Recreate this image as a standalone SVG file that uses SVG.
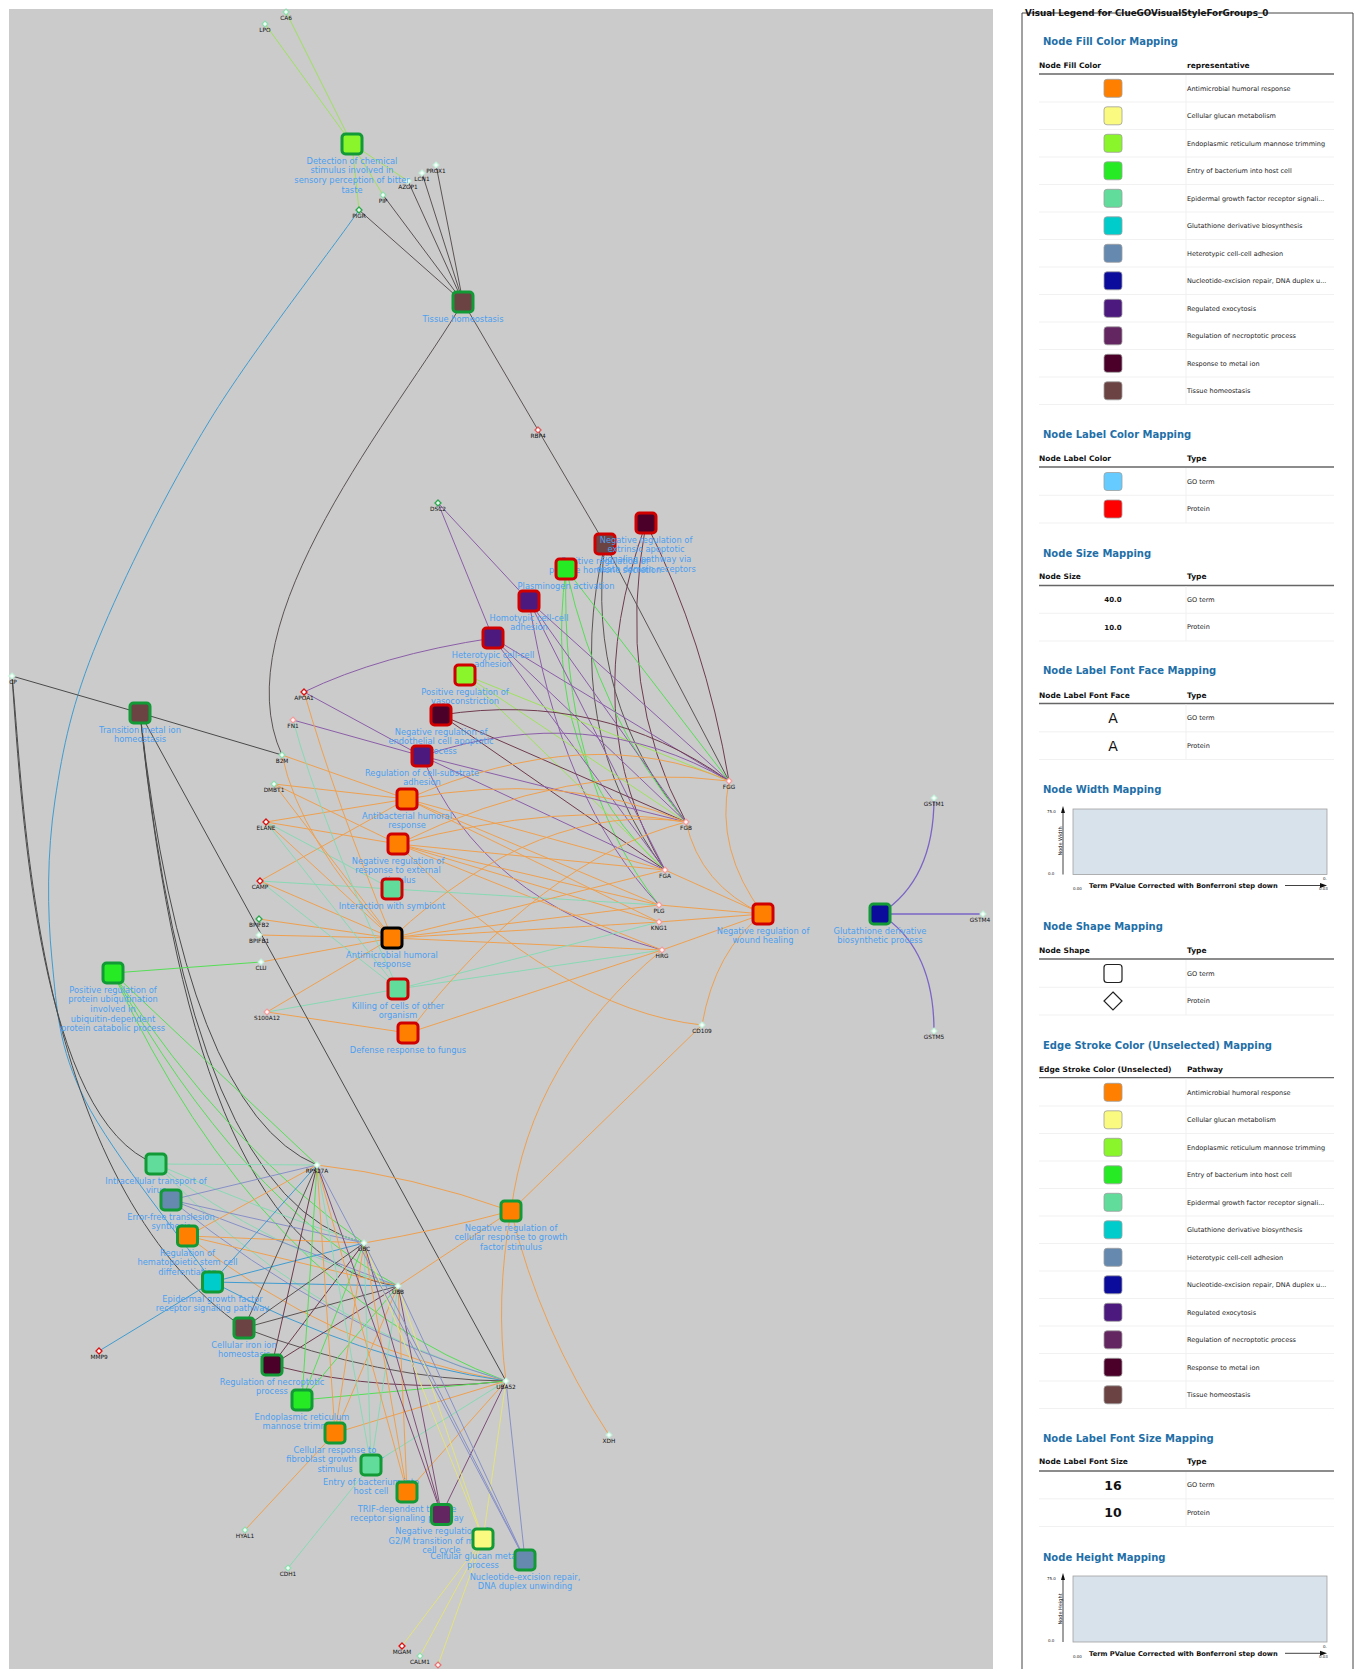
<svg xmlns="http://www.w3.org/2000/svg" width="1356" height="1669" viewBox="0 0 1356 1669">
<style>
.bg{fill:#CBCBCB}
.e{fill:none;stroke-width:1}
.o{stroke:#EFA04F}.y{stroke:#E3E37C}.lg{stroke:#9EE25E}.g{stroke:#55DE55}.m{stroke:#88D9B4}
.b{stroke:#3F9CD0}.s{stroke:#8790C6}.p{stroke:#8B5EA8}.v{stroke:#7F4E78}.d{stroke:#6E3B4E}
.t{stroke:#5B5353}.k{stroke:#4A4A4A}.n{stroke:#7A64C6;stroke-width:1.3}
.sq{stroke-width:3}
.sg{stroke:#119A36}.sr{stroke:#D00000}.sb{stroke:#000}
.lbl{font-family:"DejaVu Sans",sans-serif;font-size:8.3px;fill:#4B9FF0;text-anchor:middle}
.pt{font-family:"DejaVu Sans",sans-serif;font-size:5.8px;fill:#111;text-anchor:middle}
.pr{fill:#fff;stroke:#DD1111;stroke-width:1.3}
.pp{fill:#fff3f3;stroke:#F29C9C;stroke-width:1.2}
.pg{fill:#e8fff0;stroke:#2EA650;stroke-width:1.3}
.pl{fill:#f0fff6;stroke:#8FDDB0;stroke-width:1.2}
.pw{fill:#f6fffa;stroke:#C2F0D8;stroke-width:1.2}
.lt{font-family:"DejaVu Sans",sans-serif;font-size:8.8px;font-weight:bold;fill:#111}
.lh{font-family:"DejaVu Sans",sans-serif;font-size:10px;font-weight:bold;fill:#1F6FA8}
.th{font-family:"DejaVu Sans",sans-serif;font-size:7.5px;font-weight:bold;fill:#111}
.tr{font-family:"DejaVu Sans",sans-serif;font-size:6.5px;fill:#222}
.hl{stroke:#666;stroke-width:1.3}
.rl{stroke:#EDEDED;stroke-width:0.8}
.sw{stroke:#A0A0A0;stroke-width:0.8}
.ax{font-family:"DejaVu Sans",sans-serif;font-size:4px;fill:#222}
.axl{font-family:"DejaVu Sans",sans-serif;font-size:6.7px;font-weight:bold;fill:#111}
</style>
<rect x="0" y="0" width="1356" height="1669" fill="#fff"/>
<rect class="bg" x="9" y="9" width="984" height="1660"/>

<g id="connectors">
<path class="e lg" d="M352,144L286,12"/>
<path class="e lg" d="M352,144L265,24"/>
<path class="e lg" d="M352,144L359,210"/>
<path class="e lg" d="M352,144L383,195"/>
<path class="e lg" d="M352,144L408,181"/>
<path class="e t" d="M463,302L359,210"/>
<path class="e t" d="M463,302L383,195"/>
<path class="e t" d="M463,302L408,181"/>
<path class="e t" d="M463,302L422,173"/>
<path class="e t" d="M463,302L436,165"/>
<path class="e t" d="M463,302C400,410 220,620 282,755"/>
<path class="e t" d="M463,302L538,430"/>
<path class="e t" d="M538,430L605,544"/>
<path class="e b" d="M359,210C334,247 253.5,349 210,420C166.5,491 124,577 98,640C72,703 63,747 55,800C47,853 47,910 52,960C57,1010 58,1046 85,1100C112,1154 192,1252 212.5,1282"/>
<path class="e d" d="M646,523Q705,640 729,781"/>
<path class="e d" d="M646,523Q615,690 686,822"/>
<path class="e d" d="M646,523Q575,720 665,870"/>
<path class="e t" d="M605,544L729,781"/>
<path class="e t" d="M605,544Q585,700 686,822"/>
<path class="e t" d="M605,544Q560,730 665,870"/>
<path class="e g" d="M566,569L729,781"/>
<path class="e g" d="M566,569Q600,720 686,822"/>
<path class="e g" d="M566,569Q540,760 665,870"/>
<path class="e g" d="M566,569Q560,780 659,905"/>
<path class="e p" d="M529,601L438,503"/>
<path class="e p" d="M529,601L729,781"/>
<path class="e p" d="M529,601L686,822"/>
<path class="e p" d="M529,601L665,870"/>
<path class="e p" d="M529,601Q560,800 659,905"/>
<path class="e p" d="M493,638L438,503"/>
<path class="e p" d="M493,638Q380,655 304,692"/>
<path class="e p" d="M493,638L729,781"/>
<path class="e p" d="M493,638L686,822"/>
<path class="e p" d="M493,638L665,870"/>
<path class="e lg" d="M465,675L729,781"/>
<path class="e lg" d="M465,675L686,822"/>
<path class="e lg" d="M465,675L665,870"/>
<path class="e d" d="M441,715Q600,690 729,781"/>
<path class="e d" d="M441,715L686,822"/>
<path class="e d" d="M441,715L665,870"/>
<path class="e p" d="M422,756L304,692"/>
<path class="e p" d="M422,756L293,720"/>
<path class="e p" d="M422,756Q590,700 729,781"/>
<path class="e p" d="M422,756L686,822"/>
<path class="e p" d="M422,756L665,870"/>
<path class="e p" d="M422,756Q480,900 662,950"/>
<path class="e o" d="M407,799L282,755"/>
<path class="e o" d="M407,799L274,784"/>
<path class="e o" d="M407,799L266,822"/>
<path class="e o" d="M407,799L260,881"/>
<path class="e o" d="M407,799Q590,720 729,781"/>
<path class="e o" d="M407,799Q560,770 686,822"/>
<path class="e o" d="M407,799L665,870"/>
<path class="e o" d="M407,799L659,905"/>
<path class="e o" d="M407,799L659,922"/>
<path class="e o" d="M398,844L266,822"/>
<path class="e o" d="M398,844L274,784"/>
<path class="e o" d="M398,844Q570,760 729,781"/>
<path class="e o" d="M398,844Q560,800 686,822"/>
<path class="e o" d="M398,844L665,870"/>
<path class="e o" d="M398,844L659,905"/>
<path class="e o" d="M398,844L659,922"/>
<path class="e o" d="M398,844L662,950"/>
<path class="e o" d="M398,844Q560,1010 702,1025"/>
<path class="e m" d="M392,889L260,881"/>
<path class="e m" d="M392,889L266,822"/>
<path class="e m" d="M392,889L659,905"/>
<path class="e o" d="M392,938Q335,800 304,692"/>
<path class="e o" d="M392,938Q300,840 282,755"/>
<path class="e o" d="M392,938L274,784"/>
<path class="e o" d="M392,938L266,822"/>
<path class="e o" d="M392,938L260,881"/>
<path class="e o" d="M392,938L259,919"/>
<path class="e o" d="M392,938L259,935"/>
<path class="e o" d="M392,938L261,962"/>
<path class="e o" d="M392,938L267,1012"/>
<path class="e o" d="M392,938Q540,800 686,822"/>
<path class="e o" d="M392,938L665,870"/>
<path class="e o" d="M392,938L659,905"/>
<path class="e o" d="M392,938L659,922"/>
<path class="e o" d="M392,938L662,950"/>
<path class="e m" d="M398,989L266,822"/>
<path class="e m" d="M398,989L260,881"/>
<path class="e m" d="M398,989L267,1012"/>
<path class="e m" d="M398,989L659,922"/>
<path class="e m" d="M398,989L662,950"/>
<path class="e m" d="M398,989Q320,820 293,720"/>
<path class="e o" d="M408,1033L267,1012"/>
<path class="e o" d="M408,1033Q540,860 686,822"/>
<path class="e o" d="M408,1033L662,950"/>
<path class="e o" d="M763,914Q715,850 729,781"/>
<path class="e o" d="M763,914Q700,885 686,822"/>
<path class="e o" d="M763,914L665,870"/>
<path class="e o" d="M763,914L659,905"/>
<path class="e o" d="M763,914L659,922"/>
<path class="e o" d="M763,914L662,950"/>
<path class="e o" d="M763,914Q715,950 702,1025"/>
<path class="e n" d="M880,914Q934,880 934,798"/>
<path class="e n" d="M880,914L983,914"/>
<path class="e n" d="M880,914Q934,948 934,1031"/>
<path class="e k" d="M12,676L140,713"/>
<path class="e k" d="M140,713L282,755"/>
<path class="e k" d="M12,676C25,800 30,1180 244,1328"/>
<path class="e k" d="M12,676C22,820 40,1120 156,1164"/>
<path class="e k" d="M140,713L506,1381"/>
<path class="e k" d="M140,713Q185,1110 317,1165"/>
<path class="e k" d="M140,713Q190,1200 364,1243"/>
<path class="e k" d="M140,713Q195,1260 398,1286"/>
<path class="e g" d="M113,973L261,962"/>
<path class="e g" d="M113,973L317,1165"/>
<path class="e g" d="M113,973Q230,1150 364,1243"/>
<path class="e g" d="M113,973Q240,1200 398,1286"/>
<path class="e g" d="M113,973Q260,1290 506,1381"/>
<path class="e m" d="M156,1164L317,1165"/>
<path class="e m" d="M156,1164Q260,1210 364,1243"/>
<path class="e m" d="M156,1164Q270,1250 398,1286"/>
<path class="e m" d="M156,1164Q300,1320 506,1381"/>
<path class="e s" d="M171,1200L317,1165"/>
<path class="e s" d="M171,1200L364,1243"/>
<path class="e s" d="M171,1200L398,1286"/>
<path class="e s" d="M171,1200Q330,1330 506,1381"/>
<path class="e o" d="M187.5,1236L317,1165"/>
<path class="e o" d="M187.5,1236L364,1243"/>
<path class="e o" d="M187.5,1236L398,1286"/>
<path class="e o" d="M187.5,1236Q330,1350 506,1381"/>
<path class="e b" d="M212.5,1282L317,1165"/>
<path class="e b" d="M212.5,1282L364,1243"/>
<path class="e b" d="M212.5,1282L398,1286"/>
<path class="e b" d="M212.5,1282Q360,1360 506,1381"/>
<path class="e b" d="M212.5,1282L99,1351"/>
<path class="e t" d="M244,1328L317,1165"/>
<path class="e t" d="M244,1328L364,1243"/>
<path class="e t" d="M244,1328L398,1286"/>
<path class="e t" d="M244,1328Q380,1380 506,1381"/>
<path class="e d" d="M272,1365L317,1165"/>
<path class="e d" d="M272,1365L364,1243"/>
<path class="e d" d="M272,1365L398,1286"/>
<path class="e d" d="M272,1365Q390,1395 506,1381"/>
<path class="e g" d="M302,1400L317,1165"/>
<path class="e g" d="M302,1400L364,1243"/>
<path class="e g" d="M302,1400L398,1286"/>
<path class="e g" d="M302,1400L506,1381"/>
<path class="e o" d="M335,1433L317,1165"/>
<path class="e o" d="M335,1433L364,1243"/>
<path class="e o" d="M335,1433L398,1286"/>
<path class="e o" d="M335,1433L506,1381"/>
<path class="e o" d="M335,1433L245,1530"/>
<path class="e m" d="M371,1465L317,1165"/>
<path class="e m" d="M371,1465L364,1243"/>
<path class="e m" d="M371,1465L398,1286"/>
<path class="e m" d="M371,1465L506,1381"/>
<path class="e m" d="M371,1465L288,1568"/>
<path class="e o" d="M407,1492L317,1165"/>
<path class="e o" d="M407,1492L364,1243"/>
<path class="e o" d="M407,1492L398,1286"/>
<path class="e o" d="M407,1492L506,1381"/>
<path class="e v" d="M441.5,1514.5L317,1165"/>
<path class="e v" d="M441.5,1514.5L364,1243"/>
<path class="e v" d="M441.5,1514.5L398,1286"/>
<path class="e v" d="M441.5,1514.5L506,1381"/>
<path class="e y" d="M483,1539L364,1243"/>
<path class="e y" d="M483,1539L398,1286"/>
<path class="e y" d="M483,1539L506,1381"/>
<path class="e y" d="M483,1539L402,1646"/>
<path class="e y" d="M483,1539L420,1656"/>
<path class="e y" d="M483,1539L438,1665"/>
<path class="e s" d="M525,1560L317,1165"/>
<path class="e s" d="M525,1560L364,1243"/>
<path class="e s" d="M525,1560L398,1286"/>
<path class="e s" d="M525,1560L506,1381"/>
<path class="e o" d="M511,1211L702,1025"/>
<path class="e o" d="M511,1211Q540,1330 609,1435"/>
<path class="e o" d="M511,1211Q495,1300 506,1381"/>
<path class="e o" d="M511,1211Q530,1060 662,950"/>
<path class="e o" d="M511,1211Q410,1175 317,1165"/>
<path class="e o" d="M511,1211Q440,1230 364,1243"/>
<path class="e o" d="M511,1211L398,1286"/>
</g>

<g id="proteins">
<g id="p-CA6"><path class="pl" d="M286,9L289,12L286,15L283,12Z"/><text class="pt" x="286" y="20.3">CA6</text></g>
<g id="p-LPO"><path class="pl" d="M265,21L268,24L265,27L262,24Z"/><text class="pt" x="265" y="32.3">LPO</text></g>
<g id="p-PROX1"><path class="pw" d="M436,162L439,165L436,168L433,165Z"/><text class="pt" x="436" y="173.3">PROX1</text></g>
<g id="p-LCN1"><path class="pw" d="M422,170L425,173L422,176L419,173Z"/><text class="pt" x="422" y="181.3">LCN1</text></g>
<g id="p-AZGP1"><path class="pw" d="M408,178L411,181L408,184L405,181Z"/><text class="pt" x="408" y="189.3">AZGP1</text></g>
<g id="p-PIP"><path class="pl" d="M383,192L386,195L383,198L380,195Z"/><text class="pt" x="383" y="203.3">PIP</text></g>
<g id="p-PIGR"><path class="pg" d="M359,207L362,210L359,213L356,210Z"/><text class="pt" x="359" y="218.3">PIGR</text></g>
<g id="p-RBP4"><path class="pr" d="M538,427L541,430L538,433L535,430Z" style="stroke:#E05A5A"/><text class="pt" x="538" y="438.3">RBP4</text></g>
<g id="p-DSC2"><path class="pg" d="M438,500L441,503L438,506L435,503Z"/><text class="pt" x="438" y="511.3">DSC2</text></g>
<g id="p-APOA1"><path class="pr" d="M304,689L307,692L304,695L301,692Z"/><text class="pt" x="304" y="700.3">APOA1</text></g>
<g id="p-FN1"><path class="pp" d="M293,717L296,720L293,723L290,720Z"/><text class="pt" x="293" y="728.3">FN1</text></g>
<g id="p-CP"><path class="pw" d="M12,673L15,676L12,679L9,676Z"/><text class="pt" x="13" y="684.3">CP</text></g>
<g id="p-B2M"><path class="pl" d="M282,752L285,755L282,758L279,755Z"/><text class="pt" x="282" y="763.3">B2M</text></g>
<g id="p-DMBT1"><path class="pl" d="M274,781L277,784L274,787L271,784Z"/><text class="pt" x="274" y="792.3">DMBT1</text></g>
<g id="p-ELANE"><path class="pr" d="M266,819L269,822L266,825L263,822Z"/><text class="pt" x="266" y="830.3">ELANE</text></g>
<g id="p-CAMP"><path class="pr" d="M260,878L263,881L260,884L257,881Z"/><text class="pt" x="260" y="889.3">CAMP</text></g>
<g id="p-BPIFB2"><path class="pg" d="M259,916L262,919L259,922L256,919Z"/><text class="pt" x="259" y="927.3">BPIFB2</text></g>
<g id="p-BPIFB1"><path class="pw" d="M259,932L262,935L259,938L256,935Z"/><text class="pt" x="259" y="943.3">BPIFB1</text></g>
<g id="p-CLU"><path class="pw" d="M261,959L264,962L261,965L258,962Z"/><text class="pt" x="261" y="970.3">CLU</text></g>
<g id="p-S100A12"><path class="pp" d="M267,1009L270,1012L267,1015L264,1012Z"/><text class="pt" x="267" y="1020.3">S100A12</text></g>
<g id="p-FGG"><path class="pp" d="M729,778L732,781L729,784L726,781Z"/><text class="pt" x="729" y="789.3">FGG</text></g>
<g id="p-FGB"><path class="pp" d="M686,819L689,822L686,825L683,822Z"/><text class="pt" x="686" y="830.3">FGB</text></g>
<g id="p-FGA"><path class="pp" d="M665,867L668,870L665,873L662,870Z"/><text class="pt" x="665" y="878.3">FGA</text></g>
<g id="p-PLG"><path class="pp" d="M659,902L662,905L659,908L656,905Z"/><text class="pt" x="659" y="913.3">PLG</text></g>
<g id="p-KNG1"><path class="pp" d="M659,919L662,922L659,925L656,922Z"/><text class="pt" x="659" y="930.3">KNG1</text></g>
<g id="p-HRG"><path class="pp" d="M662,947L665,950L662,953L659,950Z"/><text class="pt" x="662" y="958.3">HRG</text></g>
<g id="p-CD109"><path class="pw" d="M702,1022L705,1025L702,1028L699,1025Z"/><text class="pt" x="702" y="1033.3">CD109</text></g>
<g id="p-GSTM1"><path class="pw" d="M934,795L937,798L934,801L931,798Z"/><text class="pt" x="934" y="806.3">GSTM1</text></g>
<g id="p-GSTM4"><path class="pw" d="M983,911L986,914L983,917L980,914Z"/><text class="pt" x="980" y="922.3">GSTM4</text></g>
<g id="p-GSTM5"><path class="pw" d="M934,1028L937,1031L934,1034L931,1031Z"/><text class="pt" x="934" y="1039.3">GSTM5</text></g>
<g id="p-RPS27A"><path class="pw" d="M317,1162L320,1165L317,1168L314,1165Z"/><text class="pt" x="317" y="1173.3">RPS27A</text></g>
<g id="p-UBC"><path class="pw" d="M364,1240L367,1243L364,1246L361,1243Z"/><text class="pt" x="364" y="1251.3">UBC</text></g>
<g id="p-UBB"><path class="pw" d="M398,1283L401,1286L398,1289L395,1286Z"/><text class="pt" x="398" y="1294.3">UBB</text></g>
<g id="p-UBA52"><path class="pw" d="M506,1378L509,1381L506,1384L503,1381Z"/><text class="pt" x="506" y="1389.3">UBA52</text></g>
<g id="p-MMP9"><path class="pr" d="M99,1348L102,1351L99,1354L96,1351Z"/><text class="pt" x="99" y="1359.3">MMP9</text></g>
<g id="p-XDH"><path class="pw" d="M609,1432L612,1435L609,1438L606,1435Z"/><text class="pt" x="609" y="1443.3">XDH</text></g>
<g id="p-HYAL1"><path class="pl" d="M245,1527L248,1530L245,1533L242,1530Z"/><text class="pt" x="245" y="1538.3">HYAL1</text></g>
<g id="p-CDH1"><path class="pl" d="M288,1565L291,1568L288,1571L285,1568Z"/><text class="pt" x="288" y="1576.3">CDH1</text></g>
<g id="p-MGAM"><path class="pr" d="M402,1643L405,1646L402,1649L399,1646Z"/><text class="pt" x="402" y="1654.3">MGAM</text></g>
<g id="p-CALM1"><path class="pl" d="M420,1653L423,1656L420,1659L417,1656Z"/><text class="pt" x="420" y="1664.3">CALM1</text></g>
<g id="p-unlabeled"><path class="pp" d="M438,1662L441,1665L438,1668L435,1665Z" style="stroke:#E87070"/></g>
</g>

<g id="terms">
<g id="t-detection"><rect class="sq sg" x="342" y="134" width="20" height="20" rx="3.5" fill="#8AF52A"/><text class="lbl" x="352" y="163.5">Detection of chemical</text><text class="lbl" x="352" y="173.2">stimulus involved in</text><text class="lbl" x="352" y="182.9">sensory perception of bitter</text><text class="lbl" x="352" y="192.6">taste</text></g>
<g id="t-tissue"><rect class="sq sg" x="453" y="292" width="20" height="20" rx="3.5" fill="#6B4343"/><text class="lbl" x="463" y="321.5">Tissue homeostasis</text></g>
<g id="t-peptide"><rect class="sq sr" x="595" y="534" width="20" height="20" rx="3.5" fill="#6B4343"/><text class="lbl" x="605" y="563.5">Positive regulation of</text><text class="lbl" x="605" y="573.2">peptide hormone secretion</text></g>
<g id="t-extrinsic"><rect class="sq sr" x="636" y="513" width="20" height="20" rx="3.5" fill="#4B002A"/><text class="lbl" x="646" y="542.5">Negative regulation of</text><text class="lbl" x="646" y="552.2">extrinsic apoptotic</text><text class="lbl" x="646" y="561.9">signaling pathway via</text><text class="lbl" x="646" y="571.6">death domain receptors</text></g>
<g id="t-plasminogen"><rect class="sq sr" x="556" y="559" width="20" height="20" rx="3.5" fill="#25EA24"/><text class="lbl" x="566" y="588.5">Plasminogen activation</text></g>
<g id="t-homotypic"><rect class="sq sr" x="519" y="591" width="20" height="20" rx="3.5" fill="#4C1A7E"/><text class="lbl" x="529" y="620.5">Homotypic cell-cell</text><text class="lbl" x="529" y="630.2">adhesion</text></g>
<g id="t-heterotypic"><rect class="sq sr" x="483" y="628" width="20" height="20" rx="3.5" fill="#4C1A7E"/><text class="lbl" x="493" y="657.5">Heterotypic cell-cell</text><text class="lbl" x="493" y="667.2">adhesion</text></g>
<g id="t-vasoconstriction"><rect class="sq sr" x="455" y="665" width="20" height="20" rx="3.5" fill="#8AF52A"/><text class="lbl" x="465" y="694.5">Positive regulation of</text><text class="lbl" x="465" y="704.2">vasoconstriction</text></g>
<g id="t-endothelial"><rect class="sq sr" x="431" y="705" width="20" height="20" rx="3.5" fill="#4B002A"/><text class="lbl" x="441" y="734.5">Negative regulation of</text><text class="lbl" x="441" y="744.2">endothelial cell apoptotic</text><text class="lbl" x="441" y="753.9">process</text></g>
<g id="t-substrate"><rect class="sq sr" x="412" y="746" width="20" height="20" rx="3.5" fill="#4C1A7E"/><text class="lbl" x="422" y="775.5">Regulation of cell-substrate</text><text class="lbl" x="422" y="785.2">adhesion</text></g>
<g id="t-antibacterial"><rect class="sq sr" x="397" y="789" width="20" height="20" rx="3.5" fill="#FF8000"/><text class="lbl" x="407" y="818.5">Antibacterial humoral</text><text class="lbl" x="407" y="828.2">response</text></g>
<g id="t-external"><rect class="sq sr" x="388" y="834" width="20" height="20" rx="3.5" fill="#FF8000"/><text class="lbl" x="398" y="863.5">Negative regulation of</text><text class="lbl" x="398" y="873.2">response to external</text><text class="lbl" x="398" y="882.9">stimulus</text></g>
<g id="t-symbiont"><rect class="sq sr" x="382" y="879" width="20" height="20" rx="3.5" fill="#62DC9B"/><text class="lbl" x="392" y="908.5">Interaction with symbiont</text></g>
<g id="t-antimicrobial"><rect class="sq sb" x="382" y="928" width="20" height="20" rx="3.5" fill="#FF8000"/><text class="lbl" x="392" y="957.5">Antimicrobial humoral</text><text class="lbl" x="392" y="967.2">response</text></g>
<g id="t-killing"><rect class="sq sr" x="388" y="979" width="20" height="20" rx="3.5" fill="#62DC9B"/><text class="lbl" x="398" y="1008.5">Killing of cells of other</text><text class="lbl" x="398" y="1018.2">organism</text></g>
<g id="t-fungus"><rect class="sq sr" x="398" y="1023" width="20" height="20" rx="3.5" fill="#FF8000"/><text class="lbl" x="408" y="1052.5">Defense response to fungus</text></g>
<g id="t-wound"><rect class="sq sr" x="753" y="904" width="20" height="20" rx="3.5" fill="#FF8000"/><text class="lbl" x="763" y="933.5">Negative regulation of</text><text class="lbl" x="763" y="943.2">wound healing</text></g>
<g id="t-glutathione"><rect class="sq sg" x="870" y="904" width="20" height="20" rx="3.5" fill="#0C0C9C"/><text class="lbl" x="880" y="933.5">Glutathione derivative</text><text class="lbl" x="880" y="943.2">biosynthetic process</text></g>
<g id="t-transition"><rect class="sq sg" x="130" y="703" width="20" height="20" rx="3.5" fill="#6B4343"/><text class="lbl" x="140" y="732.5">Transition metal ion</text><text class="lbl" x="140" y="742.2">homeostasis</text></g>
<g id="t-ubiquitination"><rect class="sq sg" x="103" y="963" width="20" height="20" rx="3.5" fill="#25EA24"/><text class="lbl" x="113" y="992.5">Positive regulation of</text><text class="lbl" x="113" y="1002.2">protein ubiquitination</text><text class="lbl" x="113" y="1011.9">involved in</text><text class="lbl" x="113" y="1021.6">ubiquitin-dependent</text><text class="lbl" x="113" y="1031.3">protein catabolic process</text></g>
<g id="t-growthfactor"><rect class="sq sg" x="501" y="1201" width="20" height="20" rx="3.5" fill="#FF8000"/><text class="lbl" x="511" y="1230.5">Negative regulation of</text><text class="lbl" x="511" y="1240.2">cellular response to growth</text><text class="lbl" x="511" y="1249.9">factor stimulus</text></g>
<g id="t-virus"><rect class="sq sg" x="146" y="1154" width="20" height="20" rx="3.5" fill="#62DC9B"/><text class="lbl" x="156" y="1183.5">Intracellular transport of</text><text class="lbl" x="156" y="1193.2">virus</text></g>
<g id="t-translesion"><rect class="sq sg" x="161" y="1190" width="20" height="20" rx="3.5" fill="#6689B0"/><text class="lbl" x="171" y="1219.5">Error-free translesion</text><text class="lbl" x="171" y="1229.2">synthesis</text></g>
<g id="t-hematopoietic"><rect class="sq sg" x="177.5" y="1226" width="20" height="20" rx="3.5" fill="#FF8000"/><text class="lbl" x="187.5" y="1255.5">Regulation of</text><text class="lbl" x="187.5" y="1265.2">hematopoietic stem cell</text><text class="lbl" x="187.5" y="1274.9">differentiation</text></g>
<g id="t-egfr"><rect class="sq sg" x="202.5" y="1272" width="20" height="20" rx="3.5" fill="#00CCCC"/><text class="lbl" x="212.5" y="1301.5">Epidermal growth factor</text><text class="lbl" x="212.5" y="1311.2">receptor signaling pathway</text></g>
<g id="t-iron"><rect class="sq sg" x="234" y="1318" width="20" height="20" rx="3.5" fill="#6B4343"/><text class="lbl" x="244" y="1347.5">Cellular iron ion</text><text class="lbl" x="244" y="1357.2">homeostasis</text></g>
<g id="t-necroptotic"><rect class="sq sg" x="262" y="1355" width="20" height="20" rx="3.5" fill="#4B002A"/><text class="lbl" x="272" y="1384.5">Regulation of necroptotic</text><text class="lbl" x="272" y="1394.2">process</text></g>
<g id="t-mannose"><rect class="sq sg" x="292" y="1390" width="20" height="20" rx="3.5" fill="#25EA24"/><text class="lbl" x="302" y="1419.5">Endoplasmic reticulum</text><text class="lbl" x="302" y="1429.2">mannose trimming</text></g>
<g id="t-fibroblast"><rect class="sq sg" x="325" y="1423" width="20" height="20" rx="3.5" fill="#FF8000"/><text class="lbl" x="335" y="1452.5">Cellular response to</text><text class="lbl" x="335" y="1462.2">fibroblast growth factor</text><text class="lbl" x="335" y="1471.9">stimulus</text></g>
<g id="t-bacterium"><rect class="sq sg" x="361" y="1455" width="20" height="20" rx="3.5" fill="#62DC9B"/><text class="lbl" x="371" y="1484.5">Entry of bacterium into</text><text class="lbl" x="371" y="1494.2">host cell</text></g>
<g id="t-trif"><rect class="sq sg" x="397" y="1482" width="20" height="20" rx="3.5" fill="#FF8000"/><text class="lbl" x="407" y="1511.5">TRIF-dependent toll-like</text><text class="lbl" x="407" y="1521.2">receptor signaling pathway</text></g>
<g id="t-g2m"><rect class="sq sg" x="431.5" y="1504.5" width="20" height="20" rx="3.5" fill="#632660"/><text class="lbl" x="441.5" y="1534">Negative regulation of</text><text class="lbl" x="441.5" y="1543.7">G2/M transition of mitotic</text><text class="lbl" x="441.5" y="1553.4">cell cycle</text></g>
<g id="t-glucan"><rect class="sq sg" x="473" y="1529" width="20" height="20" rx="3.5" fill="#FAFA80"/><text class="lbl" x="483" y="1558.5">Cellular glucan metabolic</text><text class="lbl" x="483" y="1568.2">process</text></g>
<g id="t-nucleotide"><rect class="sq sg" x="515" y="1550" width="20" height="20" rx="3.5" fill="#6689B0"/><text class="lbl" x="525" y="1579.5">Nucleotide-excision repair,</text><text class="lbl" x="525" y="1589.2">DNA duplex unwinding</text></g>
</g>

<g id="legend">
<path d="M1022,1669V13H1353V1669" fill="none" stroke="#444" stroke-width="1"/>
<text class="lt" x="1025" y="16">Visual Legend for ClueGOVisualStyleForGroups_0</text>

<text class="lh" x="1043" y="45">Node Fill Color Mapping</text>
<text class="th" x="1039" y="67.8">Node Fill Color</text><text class="th" x="1187" y="67.8">representative</text>
<line class="hl" x1="1039" y1="74" x2="1334" y2="74"/>
<g id="fill-rows">
<line class="rl" x1="1186" y1="75" x2="1186" y2="404"/>
<rect class="sw" x="1104" y="79.3" width="18" height="18" rx="3" fill="#FF8000"/><text class="tr" x="1187" y="90.6">Antimicrobial humoral response</text><line class="rl" x1="1039" y1="102" x2="1334" y2="102"/>
<rect class="sw" x="1104" y="106.8" width="18" height="18" rx="3" fill="#FAFA80"/><text class="tr" x="1187" y="118.1">Cellular glucan metabolism</text><line class="rl" x1="1039" y1="129.5" x2="1334" y2="129.5"/>
<rect class="sw" x="1104" y="134.3" width="18" height="18" rx="3" fill="#8AF52A"/><text class="tr" x="1187" y="145.6">Endoplasmic reticulum mannose trimming</text><line class="rl" x1="1039" y1="157" x2="1334" y2="157"/>
<rect class="sw" x="1104" y="161.8" width="18" height="18" rx="3" fill="#25EA24"/><text class="tr" x="1187" y="173.1">Entry of bacterium into host cell</text><line class="rl" x1="1039" y1="184.5" x2="1334" y2="184.5"/>
<rect class="sw" x="1104" y="189.3" width="18" height="18" rx="3" fill="#62DC9B"/><text class="tr" x="1187" y="200.6">Epidermal growth factor receptor signali...</text><line class="rl" x1="1039" y1="212" x2="1334" y2="212"/>
<rect class="sw" x="1104" y="216.8" width="18" height="18" rx="3" fill="#00CCCC"/><text class="tr" x="1187" y="228.1">Glutathione derivative biosynthesis</text><line class="rl" x1="1039" y1="239.5" x2="1334" y2="239.5"/>
<rect class="sw" x="1104" y="244.3" width="18" height="18" rx="3" fill="#6689B0"/><text class="tr" x="1187" y="255.6">Heterotypic cell-cell adhesion</text><line class="rl" x1="1039" y1="267" x2="1334" y2="267"/>
<rect class="sw" x="1104" y="271.8" width="18" height="18" rx="3" fill="#0C0C9C"/><text class="tr" x="1187" y="283.1">Nucleotide-excision repair, DNA duplex u...</text><line class="rl" x1="1039" y1="294.5" x2="1334" y2="294.5"/>
<rect class="sw" x="1104" y="299.3" width="18" height="18" rx="3" fill="#4C1A7E"/><text class="tr" x="1187" y="310.6">Regulated exocytosis</text><line class="rl" x1="1039" y1="322" x2="1334" y2="322"/>
<rect class="sw" x="1104" y="326.8" width="18" height="18" rx="3" fill="#632660"/><text class="tr" x="1187" y="338.1">Regulation of necroptotic process</text><line class="rl" x1="1039" y1="349.5" x2="1334" y2="349.5"/>
<rect class="sw" x="1104" y="354.3" width="18" height="18" rx="3" fill="#4B002A"/><text class="tr" x="1187" y="365.6">Response to metal ion</text><line class="rl" x1="1039" y1="377" x2="1334" y2="377"/>
<rect class="sw" x="1104" y="381.8" width="18" height="18" rx="3" fill="#6B4343"/><text class="tr" x="1187" y="393.1">Tissue homeostasis</text><line class="rl" x1="1039" y1="404.5" x2="1334" y2="404.5"/>
</g>

<text class="lh" x="1043" y="438.3">Node Label Color Mapping</text>
<text class="th" x="1039" y="461">Node Label Color</text><text class="th" x="1187" y="461">Type</text>
<line class="hl" x1="1039" y1="467" x2="1334" y2="467"/>
<line class="rl" x1="1186" y1="468" x2="1186" y2="523"/>
<rect class="sw" x="1104" y="472.5" width="18" height="18" rx="3" fill="#66CCFF"/><text class="tr" x="1187" y="483.8">GO term</text><line class="rl" x1="1039" y1="495.3" x2="1334" y2="495.3"/>
<rect class="sw" x="1104" y="500" width="18" height="18" rx="3" fill="#FF0000"/><text class="tr" x="1187" y="511.3">Protein</text><line class="rl" x1="1039" y1="523" x2="1334" y2="523"/>

<text class="lh" x="1043" y="556.5">Node Size Mapping</text>
<text class="th" x="1039" y="579.3">Node Size</text><text class="th" x="1187" y="579.3">Type</text>
<line class="hl" x1="1039" y1="585.5" x2="1334" y2="585.5"/>
<line class="rl" x1="1186" y1="586" x2="1186" y2="641"/>
<text x="1113" y="602" text-anchor="middle" style="font-family:'DejaVu Sans',sans-serif;font-size:7px;font-weight:bold;fill:#111">40.0</text><text class="tr" x="1187" y="601.8">GO term</text><line class="rl" x1="1039" y1="613.3" x2="1334" y2="613.3"/>
<text x="1113" y="629.6" text-anchor="middle" style="font-family:'DejaVu Sans',sans-serif;font-size:7px;font-weight:bold;fill:#111">10.0</text><text class="tr" x="1187" y="629.4">Protein</text><line class="rl" x1="1039" y1="641" x2="1334" y2="641"/>

<text class="lh" x="1043" y="674.3">Node Label Font Face Mapping</text>
<text class="th" x="1039" y="697.5">Node Label Font Face</text><text class="th" x="1187" y="697.5">Type</text>
<line class="hl" x1="1039" y1="703.5" x2="1334" y2="703.5"/>
<line class="rl" x1="1186" y1="704" x2="1186" y2="759"/>
<text x="1113" y="723" text-anchor="middle" style="font-family:'DejaVu Sans',sans-serif;font-size:14px;fill:#111">A</text><text class="tr" x="1187" y="720.3">GO term</text><line class="rl" x1="1039" y1="731.8" x2="1334" y2="731.8"/>
<text x="1113" y="750.7" text-anchor="middle" style="font-family:'DejaVu Sans',sans-serif;font-size:14px;fill:#111">A</text><text class="tr" x="1187" y="748">Protein</text><line class="rl" x1="1039" y1="759.5" x2="1334" y2="759.5"/>

<text class="lh" x="1043" y="793">Node Width Mapping</text>
<g id="width-chart">
<rect x="1073" y="809" width="254" height="65.5" fill="#D7E2EB" stroke="#A0A0A0" stroke-width="0.8"/>
<line x1="1063" y1="874.5" x2="1063" y2="812" stroke="#111" stroke-width="0.8"/>
<path d="M1063,806L1065,813L1061,813Z" fill="#111"/>
<text class="ax" x="1047" y="812.5">75.0</text>
<text class="ax" x="1048" y="874.5">0.0</text>
<text x="0" y="0" transform="translate(1061.5,841) rotate(-90)" text-anchor="middle" style="font-family:'DejaVu Sans',sans-serif;font-size:5px;fill:#222">Node Width</text>
<text class="ax" x="1073" y="889.5">0.00</text>
<text class="axl" x="1089" y="888">Term PValue Corrected with Bonferroni step down</text>
<line x1="1285" y1="885.5" x2="1321" y2="885.5" stroke="#111" stroke-width="0.8"/>
<path d="M1327,885.5L1320,883L1320,888Z" fill="#111"/>
<text class="ax" x="1323" y="880">0.</text>
<text class="ax" x="1319" y="890">0.03</text>
</g>

<text class="lh" x="1043" y="930.4">Node Shape Mapping</text>
<text class="th" x="1039" y="953.2">Node Shape</text><text class="th" x="1187" y="953.2">Type</text>
<line class="hl" x1="1039" y1="959" x2="1334" y2="959"/>
<line class="rl" x1="1186" y1="960" x2="1186" y2="1015"/>
<rect x="1104" y="964.5" width="18" height="18" rx="3" fill="#fff" stroke="#222" stroke-width="1.2"/><text class="tr" x="1187" y="975.8">GO term</text><line class="rl" x1="1039" y1="987.3" x2="1334" y2="987.3"/>
<path d="M1113,992L1122,1001L1113,1010L1104,1001Z" fill="#fff" stroke="#222" stroke-width="1.2"/><text class="tr" x="1187" y="1003.3">Protein</text><line class="rl" x1="1039" y1="1015" x2="1334" y2="1015"/>

<text class="lh" x="1043" y="1048.7">Edge Stroke Color (Unselected) Mapping</text>
<text class="th" x="1039" y="1071.8">Edge Stroke Color (Unselected)</text><text class="th" x="1187" y="1071.8">Pathway</text>
<line class="hl" x1="1039" y1="1077.7" x2="1334" y2="1077.7"/>
<g id="edge-rows">
<line class="rl" x1="1186" y1="1078" x2="1186" y2="1408"/>
<rect class="sw" x="1104" y="1083.3" width="18" height="18" rx="3" fill="#FF8000"/><text class="tr" x="1187" y="1094.6">Antimicrobial humoral response</text><line class="rl" x1="1039" y1="1106" x2="1334" y2="1106"/>
<rect class="sw" x="1104" y="1110.8" width="18" height="18" rx="3" fill="#FAFA80"/><text class="tr" x="1187" y="1122.1">Cellular glucan metabolism</text><line class="rl" x1="1039" y1="1133.5" x2="1334" y2="1133.5"/>
<rect class="sw" x="1104" y="1138.3" width="18" height="18" rx="3" fill="#8AF52A"/><text class="tr" x="1187" y="1149.6">Endoplasmic reticulum mannose trimming</text><line class="rl" x1="1039" y1="1161" x2="1334" y2="1161"/>
<rect class="sw" x="1104" y="1165.8" width="18" height="18" rx="3" fill="#25EA24"/><text class="tr" x="1187" y="1177.1">Entry of bacterium into host cell</text><line class="rl" x1="1039" y1="1188.5" x2="1334" y2="1188.5"/>
<rect class="sw" x="1104" y="1193.3" width="18" height="18" rx="3" fill="#62DC9B"/><text class="tr" x="1187" y="1204.6">Epidermal growth factor receptor signali...</text><line class="rl" x1="1039" y1="1216" x2="1334" y2="1216"/>
<rect class="sw" x="1104" y="1220.8" width="18" height="18" rx="3" fill="#00CCCC"/><text class="tr" x="1187" y="1232.1">Glutathione derivative biosynthesis</text><line class="rl" x1="1039" y1="1243.5" x2="1334" y2="1243.5"/>
<rect class="sw" x="1104" y="1248.3" width="18" height="18" rx="3" fill="#6689B0"/><text class="tr" x="1187" y="1259.6">Heterotypic cell-cell adhesion</text><line class="rl" x1="1039" y1="1271" x2="1334" y2="1271"/>
<rect class="sw" x="1104" y="1275.8" width="18" height="18" rx="3" fill="#0C0C9C"/><text class="tr" x="1187" y="1287.1">Nucleotide-excision repair, DNA duplex u...</text><line class="rl" x1="1039" y1="1298.5" x2="1334" y2="1298.5"/>
<rect class="sw" x="1104" y="1303.3" width="18" height="18" rx="3" fill="#4C1A7E"/><text class="tr" x="1187" y="1314.6">Regulated exocytosis</text><line class="rl" x1="1039" y1="1326" x2="1334" y2="1326"/>
<rect class="sw" x="1104" y="1330.8" width="18" height="18" rx="3" fill="#632660"/><text class="tr" x="1187" y="1342.1">Regulation of necroptotic process</text><line class="rl" x1="1039" y1="1353.5" x2="1334" y2="1353.5"/>
<rect class="sw" x="1104" y="1358.3" width="18" height="18" rx="3" fill="#4B002A"/><text class="tr" x="1187" y="1369.6">Response to metal ion</text><line class="rl" x1="1039" y1="1381" x2="1334" y2="1381"/>
<rect class="sw" x="1104" y="1385.8" width="18" height="18" rx="3" fill="#6B4343"/><text class="tr" x="1187" y="1397.1">Tissue homeostasis</text><line class="rl" x1="1039" y1="1408.5" x2="1334" y2="1408.5"/>
</g>

<text class="lh" x="1043" y="1441.7">Node Label Font Size Mapping</text>
<text class="th" x="1039" y="1464.3">Node Label Font Size</text><text class="th" x="1187" y="1464.3">Type</text>
<line class="hl" x1="1039" y1="1471" x2="1334" y2="1471"/>
<line class="rl" x1="1186" y1="1472" x2="1186" y2="1526"/>
<text x="1113" y="1489.5" text-anchor="middle" style="font-family:'DejaVu Sans',sans-serif;font-size:12.5px;font-weight:bold;fill:#111">16</text><text class="tr" x="1187" y="1487.3">GO term</text><line class="rl" x1="1039" y1="1498.8" x2="1334" y2="1498.8"/>
<text x="1113" y="1517.2" text-anchor="middle" style="font-family:'DejaVu Sans',sans-serif;font-size:12.5px;font-weight:bold;fill:#111">10</text><text class="tr" x="1187" y="1515">Protein</text><line class="rl" x1="1039" y1="1526.5" x2="1334" y2="1526.5"/>

<text class="lh" x="1043" y="1560.7">Node Height Mapping</text>
<g id="height-chart">
<rect x="1073" y="1576" width="254" height="66" fill="#D7E2EB" stroke="#A0A0A0" stroke-width="0.8"/>
<line x1="1063" y1="1642" x2="1063" y2="1579" stroke="#111" stroke-width="0.8"/>
<path d="M1063,1573L1065,1580L1061,1580Z" fill="#111"/>
<text class="ax" x="1047" y="1579.5">75.0</text>
<text class="ax" x="1048" y="1642">0.0</text>
<text x="0" y="0" transform="translate(1061.5,1609) rotate(-90)" text-anchor="middle" style="font-family:'DejaVu Sans',sans-serif;font-size:5px;fill:#222">Node Height</text>
<text class="ax" x="1073" y="1657.5">0.00</text>
<text class="axl" x="1089" y="1656">Term PValue Corrected with Bonferroni step down</text>
<line x1="1285" y1="1653.3" x2="1321" y2="1653.3" stroke="#111" stroke-width="0.8"/>
<path d="M1327,1653.3L1320,1650.8L1320,1655.8Z" fill="#111"/>
<text class="ax" x="1323" y="1648">0.</text>
<text class="ax" x="1319" y="1658">0.03</text>
</g>
</g>
</svg>
